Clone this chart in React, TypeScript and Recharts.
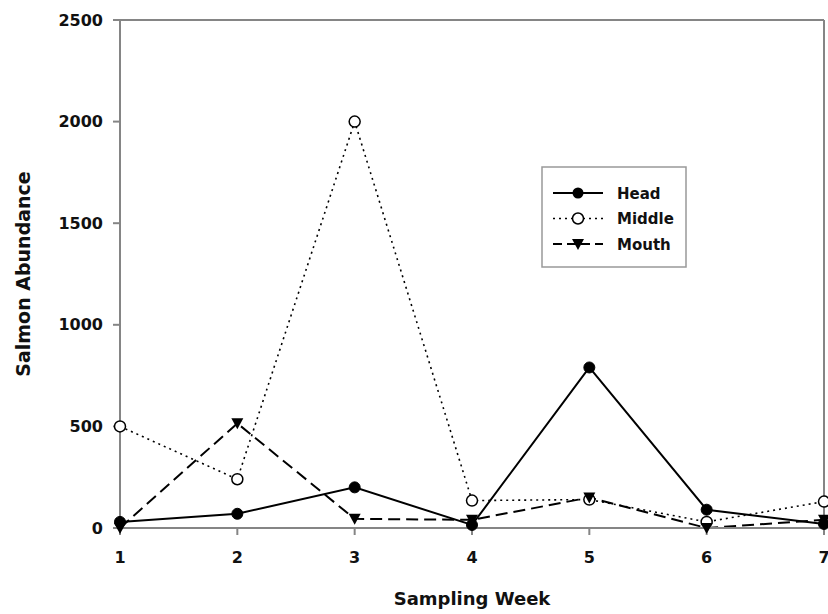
import React from "react";
import { LineChart, Line, XAxis, YAxis, ReferenceLine } from "recharts";

const weeks = [1, 2, 3, 4, 5, 6, 7];
const head = [30, 70, 200, 15, 790, 90, 20];
const middle = [500, 240, 2000, 135, 140, 30, 130];
const mouth = [0, 515, 45, 40, 150, 0, 40];
const yTicks = [0, 500, 1000, 1500, 2000, 2500];
const seriesNames = ["Head", "Middle", "Mouth"];

const data = weeks.map((w, i) => ({ week: w, Head: head[i], Middle: middle[i], Mouth: mouth[i] }));

const FONT = "'DejaVu Sans', sans-serif";
const AXIS = "#858585";

const FilledDot = (p: any) => <circle key={p.key} cx={p.cx} cy={p.cy} r={5.5} fill="#000" stroke="#000" strokeWidth={1} />;
const OpenDot = (p: any) => <circle key={p.key} cx={p.cx} cy={p.cy} r={5.5} fill="#fff" stroke="#000" strokeWidth={1.5} />;
const TriDot = (p: any) => (
  <path key={p.key} d={`M${p.cx - 6},${p.cy - 5} L${p.cx + 6},${p.cy - 5} L${p.cx},${p.cy + 6} Z`} fill="#000" />
);

const styles: Record<string, { dash?: string; width: number }> = {
  Head: { width: 2 },
  Middle: { dash: "2 4", width: 1.6 },
  Mouth: { dash: "12 6", width: 2 },
};

const LegendBox = () => (
  <svg width={146} height={102} style={{ position: "absolute", left: 541, top: 166 }}>
    <rect x={1} y={1} width={144} height={100} fill="#fff" stroke="#999" strokeWidth={1.5} />
    {seriesNames.map((n, i) => {
      const y = 27 + i * 25.5;
      const s = styles[n];
      return (
        <g key={n}>
          <line x1={12} x2={62} y1={y} y2={y} stroke="#000" strokeWidth={s.width} strokeDasharray={n === "Mouth" ? "9 5" : s.dash} />
          {n === "Head" && <circle cx={37} cy={y} r={5.5} fill="#000" />}
          {n === "Middle" && <circle cx={37} cy={y} r={5.5} fill="#fff" stroke="#000" strokeWidth={1.5} />}
          {n === "Mouth" && <path d={`M31,${y - 5} L43,${y - 5} L37,${y + 6} Z`} fill="#000" />}
          <text x={76} y={y + 5.5} fontFamily={FONT} fontWeight={700} fontSize={15} fill="#111">{n}</text>
        </g>
      );
    })}
  </svg>
);

export default function App() {
  return (
    <div style={{ position: "absolute", left: 0, top: 0, width: 828, height: 614, background: "#fff" }}>
      <LineChart width={828} height={614} data={data} margin={{ top: 20, right: 4, bottom: 56, left: 0 }}>
        <XAxis
          dataKey="week"
          type="number"
          domain={[1, 7]}
          ticks={weeks}
          stroke={AXIS}
          strokeWidth={2}
          tickSize={7}
          height={30}
          tick={{ fill: "#111", fontFamily: FONT, fontWeight: 700, fontSize: 16 }}
          tickMargin={17}
          label={{ value: "Sampling Week", position: "insideBottom", offset: -47, fill: "#111", fontFamily: FONT, fontWeight: 700, fontSize: 18 }}
        />
        <YAxis
          type="number"
          domain={[0, 2500]}
          ticks={yTicks}
          width={120}
          stroke={AXIS}
          strokeWidth={2}
          tickSize={7}
          tickMargin={10}
          tick={{ fill: "#111", fontFamily: FONT, fontWeight: 700, fontSize: 16 }}
          label={{ value: "Salmon Abundance", angle: -90, position: "insideLeft", offset: 23, fill: "#111", fontFamily: FONT, fontWeight: 700, fontSize: 19, style: { textAnchor: "middle" } }}
        />
        <ReferenceLine y={2500} stroke={AXIS} strokeWidth={2} />
        <ReferenceLine x={7} stroke={AXIS} strokeWidth={2} />
        <Line dataKey="Middle" stroke="#000" strokeWidth={styles.Middle.width} strokeDasharray={styles.Middle.dash} dot={OpenDot} isAnimationActive={false} />
        <Line dataKey="Mouth" stroke="#000" strokeWidth={styles.Mouth.width} strokeDasharray={styles.Mouth.dash} dot={TriDot} isAnimationActive={false} />
        <Line dataKey="Head" stroke="#000" strokeWidth={styles.Head.width} dot={FilledDot} isAnimationActive={false} />
      </LineChart>
      <LegendBox />
    </div>
  );
}
